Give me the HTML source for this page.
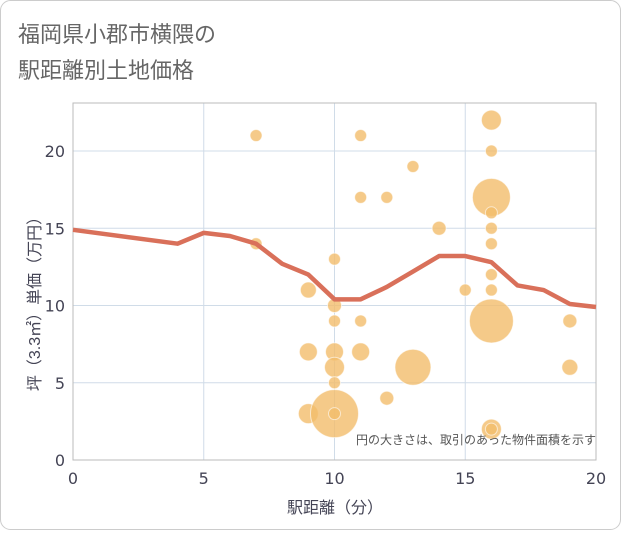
<!DOCTYPE html>
<html><head><meta charset="utf-8"><style>
body{margin:0;background:#fff;}
svg text{font-family:"Liberation Sans","Noto Sans CJK JP",sans-serif;}
svg text.tick{font-family:"DejaVu Sans","Liberation Sans",sans-serif;}
</style></head><body>
<svg width="621" height="530" xmlns="http://www.w3.org/2000/svg">
<rect x="0.5" y="0.5" width="620" height="529" rx="10" fill="#fff" stroke="#ccc"/>
<text x="18" y="42" font-size="22" fill="#666">福岡県小郡市横隈の</text>
<text x="18" y="78" font-size="22" fill="#666">駅距離別土地価格</text>
<g id="grid"></g>
<rect x="73" y="103" width="523" height="357" fill="none" stroke="#bbb"/>
<g id="bubbles"></g>
<g id="line"></g>
<g id="ticks"></g>
<text x="596" y="444" font-size="12" fill="#555" text-anchor="end">円の大きさは、取引のあった物件面積を示す</text>
<text x="335" y="513" font-size="16" fill="#445" text-anchor="middle">駅距離（分）</text>
<text transform="translate(40,300) rotate(-90)" font-size="16" fill="#445" text-anchor="middle">坪（3.3㎡）単価（万円）</text>
</svg>
<script>
const xTicks=[0,5,10,15,20];
const yTicks=[0,5,10,15,20];
const bubX=[7,11,16,16,13,11,12,16,16,14,16,7,16,10,16,9,15,16,10,16,10,11,19,9,10,11,10,13,19,10,12,9,10,16,10,16];
const bubY=[21,21,22,20,19,17,17,17,16,15,15,14,14,13,12,11,11,11,10,9,9,9,9,7,7,7,6,6,6,5,4,3,3,2,3,2];
const bubR=[6,6,10,6,6,6,6,19,6,7,6,6,6,6,6,8,6,6,7,22,6,6,7,9,9,9,10,18,8,6,7,10,24,10,6,6];
const lineX=[0,4,5,6,7,8,9,10,11,12,13,14,15,16,17,18,19,20];
const lineY=[14.9,14,14.7,14.5,14,12.7,12,10.4,10.4,11.2,12.2,13.2,13.2,12.8,11.3,11,10.1,9.9];
const NS="http://www.w3.org/2000/svg";
const sx=v=>73+v*(523/20);
const sy=v=>460-v*(309/20);
function mk(t,a,p){const e=document.createElementNS(NS,t);for(const k in a)e.setAttribute(k,a[k]);p.appendChild(e);return e;}
const g=document.getElementById('grid'),tk=document.getElementById('ticks');
xTicks.forEach(v=>{
 const l=mk('line',{x1:sx(v),x2:sx(v),y1:103,y2:460,stroke:'#d0dce8'},g);
 
 
 const t=mk('text',{x:sx(v),y:484,'font-size':16,fill:'#445','text-anchor':'middle','class':'tick'},tk);t.textContent=v;
 
 
});
yTicks.forEach(v=>{
 const l=mk('line',{x1:73,x2:596,y1:sy(v),y2:sy(v),stroke:'#d0dce8'},g);
 
 
 const t=mk('text',{x:65,y:sy(v)+6,'font-size':16,fill:'#445','text-anchor':'end','class':'tick'},tk);t.textContent=v;
 
 
});
const b=document.getElementById('bubbles');
bubX.forEach((x,i)=>{
 const c=mk('circle',{cx:sx(x),cy:sy(bubY[i]),r:bubR[i],fill:'#f3bd6b','fill-opacity':0.8,stroke:'#fff','stroke-opacity':0.6},b);
 
 
});
const pts=lineX.map((x,i)=>sx(x)+','+sy(lineY[i])).join(' ');
const pl=mk('polyline',{points:pts,fill:'none',stroke:'#d9705a',"stroke-width":4.5,"stroke-linejoin":"round"},document.getElementById('line'));


</script>
</body></html>
